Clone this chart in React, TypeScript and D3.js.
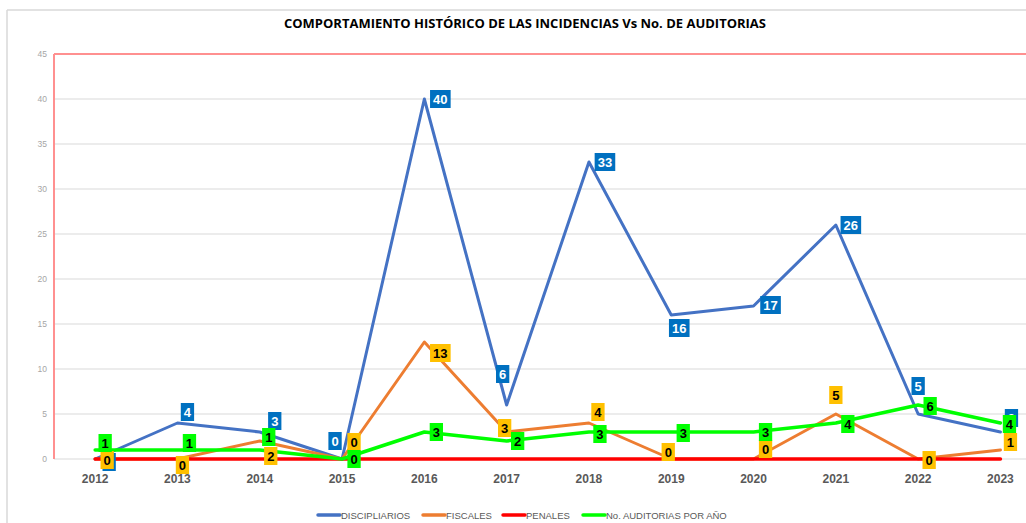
import React from "react";
import * as d3 from "d3";

const years = ["2012","2013","2014","2015","2016","2017","2018","2019","2020","2021","2022","2023"];
const disciplinarios = [0,4,3,0,40,6,33,16,17,26,5,3];
const fiscales = [0,0,2,0,13,3,4,0,0,5,0,1];
const penales = [0,0,0,0,0,0,0,0,0,0,0,0];
const auditorias = [1,1,1,0,3,2,3,3,3,4,6,4];
const yTicks = [0,5,10,15,20,25,30,35,40,45];
const titleText = "COMPORTAMIENTO HISTÓRICO DE LAS INCIDENCIAS Vs No. DE AUDITORIAS";

// label offsets (layout only)
const blueOff = [[14,3],[10,-11],[15,-11],[-7,-18],[16,0],[-4,-31],[16,0],[8,13],[17,-1],[15,0],[0,-28],[11,-14]];
const orangeOff = [[12,1],[5,6],[11,15],[12,-17],[16,11],[-2,-4],[9,-11],[-3,-7],[12,-10],[0,-19],[11,1],[10,-8]];
const greenOff = [[10,-7],[12,-7],[9,-13],[12,0],[12,0],[11,0],[11,2],[12,1],[12,0],[12,1],[12,1],[9,1]];

const W = 1026, H = 523;
const left = 54, top = 54, bottom = 459;

const series = [
  { name: "DISCIPLIARIOS", values: disciplinarios, color: "#4472C4", lw: 3, label: { bg: "#0070C0", fg: "#ffffff" }, off: blueOff },
  { name: "FISCALES", values: fiscales, color: "#ED7D31", lw: 3, label: { bg: "#FFC000", fg: "#000000" }, off: orangeOff },
  { name: "PENALES", values: penales, color: "#FF0000", lw: 3.5, label: null as any, off: null as any },
  { name: "No. AUDITORIAS POR AÑO", values: auditorias, color: "#00FF00", lw: 3.5, label: { bg: "#00FF00", fg: "#000000" }, off: greenOff },
];

const legendX = [318, 423, 503, 583];

export default function App() {
  const x = d3.scaleBand<string>().domain(years).range([left, left + 12 * 82.3]).padding(0);
  const cx = (y: string) => (x(y) as number) + x.bandwidth() / 2;
  const y = d3.scaleLinear().domain([0, 45]).range([bottom, top]);
  const line = d3.line<number>().x((_, i) => cx(years[i])).y((d) => y(d));
  const font = "'Liberation Sans', Arial, sans-serif";

  return (
    <svg width={W} height={H} style={{ position: "absolute", left: 0, top: 0, background: "#fff" }} fontFamily={font}>
      <rect x={0} y={0} width={W} height={H} fill="#fff" />
      <line x1={7} y1={10} x2={W} y2={10} stroke="#d9d9d9" strokeWidth={1.5} />
      <line x1={7} y1={10} x2={7} y2={H} stroke="#d9d9d9" strokeWidth={1.5} />
      <text x={525} y={28} textAnchor="middle" fontSize={12} fontWeight="bold" fill="#000" fontFamily="'Open Sans', sans-serif" textLength={482} lengthAdjust="spacingAndGlyphs">{titleText}</text>
      {yTicks.filter((t) => t > 0 && t < 45).map((t) => (
        <line key={t} x1={left} x2={W} y1={y(t)} y2={y(t)} stroke="#d9d9d9" strokeWidth={1} />
      ))}
      <line x1={left} x2={W} y1={bottom} y2={bottom} stroke="#d9d9d9" strokeWidth={1} />
      <line x1={left} x2={W} y1={top} y2={top} stroke="#FF9090" strokeWidth={2} />
      <line x1={left} x2={left} y1={top} y2={bottom} stroke="#FF9090" strokeWidth={2} />
      {yTicks.map((t) => (
        <text key={t} x={47} y={y(t) + 3} textAnchor="end" fontSize={8.5} fill="#a6a6a6">{t}</text>
      ))}
      {years.map((yr) => (
        <text key={yr} x={cx(yr)} y={483} textAnchor="middle" fontSize={12} fontWeight="bold" fill="#595959">{yr}</text>
      ))}
      {series.map((s) => (
        <path key={s.name} d={line(s.values) as string} fill="none" stroke={s.color} strokeWidth={s.lw} strokeLinejoin="round" strokeLinecap="round" />
      ))}
      {series.filter((s) => s.label).map((s) => (
        <g key={s.name + "-lbl"}>
          {s.values.map((v, i) => {
            const px = cx(years[i]) + s.off[i][0];
            const py = y(v) + s.off[i][1];
            const txt = String(v);
            const w = txt.length * 7.3 + 6;
            return (
              <g key={i}>
                <rect x={px - w / 2} y={py - 9} width={w} height={18} fill={s.label.bg} />
                <text x={px} y={py + 4.5} textAnchor="middle" fontSize={13} fontWeight="bold" fill={s.label.fg}>{txt}</text>
              </g>
            );
          })}
        </g>
      ))}
      {series.map((s, i) => (
        <g key={s.name + "-leg"}>
          <line x1={legendX[i]} x2={legendX[i] + 22} y1={515} y2={515} stroke={s.color} strokeWidth={3.5} strokeLinecap="round" />
          <text x={legendX[i] + 23} y={518.5} fontSize={9.5} fill="#595959">{s.name}</text>
        </g>
      ))}
    </svg>
  );
}
